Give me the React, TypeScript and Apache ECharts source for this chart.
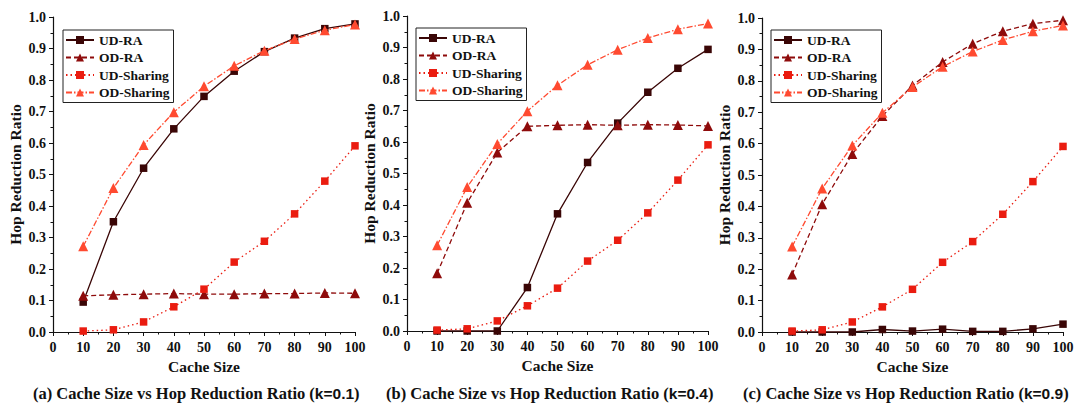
import React, { useEffect, useRef } from "react";
import * as echarts from "echarts";

const cacheSizes = [10, 20, 30, 40, 50, 60, 70, 80, 90, 100];
const seriesNames = ["UD-RA", "OD-RA", "UD-Sharing", "OD-Sharing"];

// Panel (a) k=0.1
const a_udRA = [0.095, 0.35, 0.52, 0.645, 0.748, 0.828, 0.89, 0.933, 0.963, 0.978];
const a_odRA = [0.115, 0.118, 0.12, 0.122, 0.12, 0.12, 0.122, 0.122, 0.124, 0.123];
const a_udSh = [0.003, 0.007, 0.032, 0.08, 0.136, 0.222, 0.288, 0.375, 0.479, 0.591];
const a_odSh = [0.272, 0.457, 0.594, 0.698, 0.78, 0.845, 0.893, 0.93, 0.958, 0.976];

// Panel (b) k=0.4
const b_udRA = [0, 0, 0, 0.138, 0.372, 0.535, 0.66, 0.758, 0.834, 0.894];
const b_odRA = [0.183, 0.407, 0.567, 0.65, 0.653, 0.655, 0.653, 0.655, 0.654, 0.651];
const b_udSh = [0.003, 0.007, 0.032, 0.08, 0.136, 0.222, 0.288, 0.375, 0.479, 0.591];
const b_odSh = [0.272, 0.457, 0.594, 0.698, 0.78, 0.845, 0.893, 0.93, 0.958, 0.976];

// Panel (c) k=0.9
const c_udRA = [0, 0, 0, 0.008, 0.003, 0.009, 0.002, 0.002, 0.01, 0.025];
const c_odRA = [0.183, 0.407, 0.567, 0.688, 0.785, 0.86, 0.918, 0.958, 0.982, 0.993];
const c_udSh = [0.003, 0.007, 0.032, 0.08, 0.136, 0.222, 0.288, 0.375, 0.479, 0.591];
const c_odSh = [0.272, 0.457, 0.594, 0.698, 0.78, 0.845, 0.893, 0.93, 0.958, 0.976];

const captions = [
  { label: "(a) Cache Size vs Hop Reduction Ratio ", k: "k=0.1" },
  { label: "(b) Cache Size vs Hop Reduction Ratio ", k: "k=0.4" },
  { label: "(c) Cache Size vs Hop Reduction Ratio ", k: "k=0.9" },
];

const panels = [
  [a_udRA, a_odRA, a_udSh, a_odSh],
  [b_udRA, b_odRA, b_udSh, b_odSh],
  [c_udRA, c_odRA, c_udSh, c_odSh],
];

const SERIF = "Liberation Serif";

const styles = [
  { color: "#3a0606", type: "solid" as any, symbol: "rect", size: 7.5 },
  { color: "#8e0b0b", type: [5, 3] as any, symbol: "triangle", size: 10 },
  { color: "#ea1c10", type: [1.5, 3] as any, symbol: "rect", size: 7.5 },
  { color: "#ff4a30", type: [6, 2, 1.5, 2] as any, symbol: "triangle", size: 10 },
];

const grids = [
  { left: 53, top: 17, width: 302, height: 315 },
  { left: 407, top: 16, width: 301, height: 315 },
  { left: 762, top: 18, width: 301, height: 314 },
];
const legendPos = [
  { left: 63, top: 30 },
  { left: 416, top: 28 },
  { left: 771, top: 30 },
];
const captionX = [33, 386, 743];

export default function App() {
  const ref = useRef<HTMLDivElement>(null);
  useEffect(() => {
    if (!ref.current) return;
    const chart = echarts.init(ref.current, null, { renderer: "svg" });
    const axisText = { fontFamily: SERIF, fontWeight: "bold" as const, fontSize: 14, color: "#111" };
    const xAxis = grids.map((_, i) => ({
      type: "value",
      gridIndex: i,
      min: 0,
      max: 100,
      interval: 10,
      name: "Cache Size",
      nameLocation: "middle",
      nameGap: 25,
      nameTextStyle: { fontFamily: SERIF, fontWeight: "bold", fontSize: 15.5, color: "#111" },
      axisLine: { lineStyle: { color: "#111", width: 1.2 } },
      axisTick: { show: true, length: 4, lineStyle: { color: "#111" } },
      minorTick: { show: true, splitNumber: 2, length: 2.5, lineStyle: { color: "#111" } },
      splitLine: { show: false },
      axisLabel: { ...axisText, margin: 8 },
    }));
    const yAxis = grids.map((_, i) => ({
      type: "value",
      gridIndex: i,
      min: 0,
      max: 1,
      interval: 0.1,
      name: "Hop Reduction Ratio",
      nameLocation: "middle",
      nameGap: 30,
      nameTextStyle: { fontFamily: SERIF, fontWeight: "bold", fontSize: 15.5, color: "#111" },
      axisLine: { show: true, lineStyle: { color: "#111", width: 1.2 } },
      axisTick: { show: true, length: 4, lineStyle: { color: "#111" } },
      minorTick: { show: true, splitNumber: 2, length: 2.5, lineStyle: { color: "#111" } },
      splitLine: { show: false },
      axisLabel: { ...axisText, margin: 7, formatter: (v: number) => v.toFixed(1) },
    }));
    const series: any[] = [];
    panels.forEach((p, pi) => {
      p.forEach((vals, si) => {
        const st = styles[si];
        series.push({
          type: "line",
          name: seriesNames[si],
          xAxisIndex: pi,
          yAxisIndex: pi,
          data: cacheSizes.map((c, k) => [c, vals[k]]),
          symbol: st.symbol,
          symbolSize: st.size,
          showAllSymbol: true,
          lineStyle: { color: st.color, width: 1.3, type: st.type },
          itemStyle: { color: st.color },
          z: 2 + si,
        });
      });
    });
    const legend = legendPos.map((lp) => ({
      ...lp,
      orient: "vertical",
      data: seriesNames,
      backgroundColor: "#fff",
      borderColor: "#222",
      borderWidth: 1,
      padding: [3, 4, 3, 2],
      itemGap: 3.5,
      itemWidth: 28,
      itemHeight: 10,
      selectedMode: false,
      textStyle: { fontFamily: SERIF, fontWeight: "bold", fontSize: 13.5, color: "#111" },
    }));
    const graphic = captions.map((c, i) => ({
      type: "text",
      left: captionX[i],
      top: 385,
      style: {
        text: `{m|${c.label}(}{k|${c.k}}{m|)}`,
        rich: {
          m: { fontFamily: SERIF, fontWeight: "bold", fontSize: 16.5, fill: "#111", color: "#111" },
          k: { fontFamily: "Liberation Sans", fontWeight: "bold", fontSize: 15.5, fill: "#111", color: "#111" },
        },
      },
    }));
    chart.setOption({
      animation: false,
      backgroundColor: "#fff",
      grid: grids,
      xAxis,
      yAxis,
      series,
      legend,
      graphic,
    } as any);
    return () => chart.dispose();
  }, []);
  return (
    <div
      ref={ref}
      style={{ position: "absolute", left: 0, top: 0, width: 1080, height: 403, background: "#fff" }}
    />
  );
}
